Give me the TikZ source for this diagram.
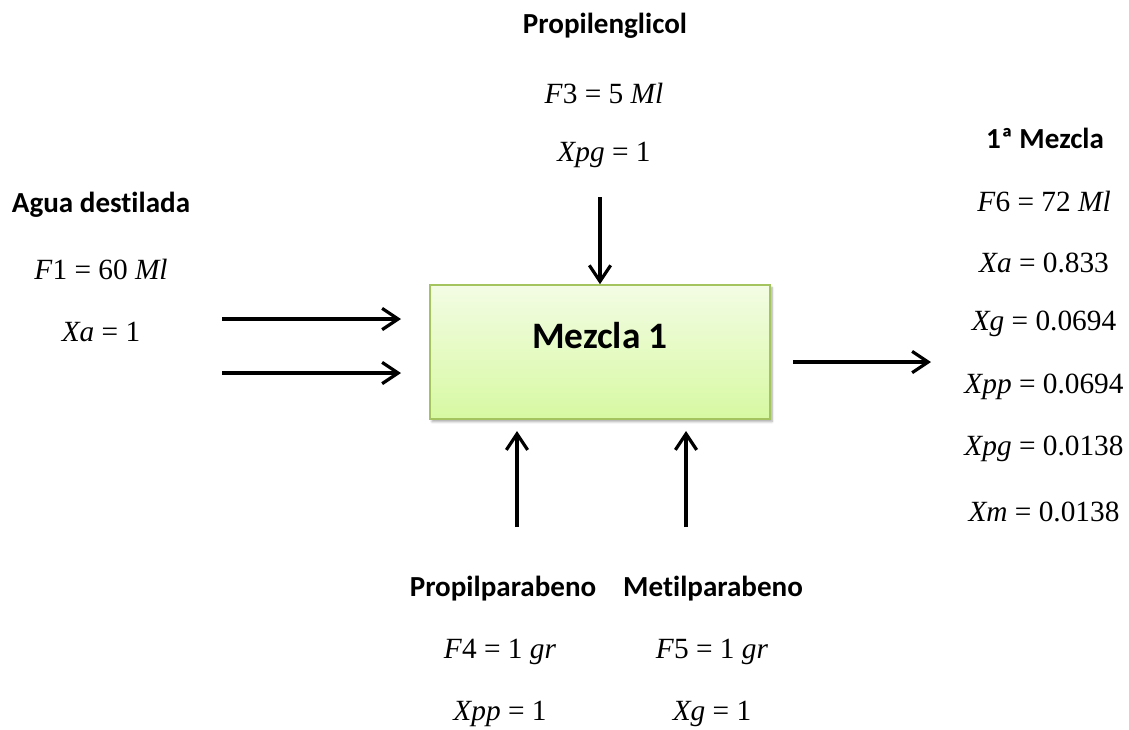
\documentclass[tikz,border=0pt]{standalone}
\usepackage{fontspec}
\newfontfamily\headfont{Carlito}[Ligatures=NoCommon]
\newfontfamily\eqfont{Liberation Serif}
\usetikzlibrary{arrows.meta,shadows.blur}

\definecolor{boxtop}{HTML}{F3FCE4}
\definecolor{boxbot}{HTML}{D7F9A2}
\definecolor{boxline}{HTML}{A3C45E}

% italic variable names inside the stream equations
\newcommand\vr[1]{\textit{#1}}

\begin{document}
\begin{tikzpicture}[x=0.75pt,y=-0.75pt,
  head/.style={font=\headfont\bfseries\fontsize{21.8}{26}\selectfont, inner sep=0pt},
  eq/.style={font=\eqfont\fontsize{22}{26}\selectfont, inner sep=0pt},
  mixbox/.style={draw=boxline, line width=1.2pt, top color=boxtop, bottom color=boxbot,
    minimum width=255pt, minimum height=100.5pt, inner sep=0pt,
    blur shadow={shadow xshift=1.5pt, shadow yshift=-2pt, shadow blur steps=6, shadow opacity=35}},
  flow/.style={line width=2.4pt, -{Straight Barb[length=12pt,width=16pt]}}
]
\useasboundingbox (0,0) rectangle (1129,729);

% process unit
\node[mixbox] (mix) at (600,352) {};
\node[font=\headfont\bfseries\fontsize{28}{33}\selectfont, inner sep=0pt] (mixlabel) at (600,336) {Mezcla 1};

% stream 1: water
\node[head] (n1) at (101,205) {Agua destilada};
\node[eq] (f1) at (101,269) {\vr{F}1 = 60 \vr{Ml}};
\node[eq] (x1) at (101,332) {\vr{Xa} = 1};

% stream 3: propylene glycol
\node[head] (n3) at (605,26) {Propilenglicol};
\node[eq] (f3) at (604,93) {\vr{F}3 = 5 \vr{Ml}};
\node[eq] (x3) at (604,155) {\vr{Xpg} = 1};

% streams 4 and 5: parabens
\node[head] (n4) at (503,589) {Propilparabeno};
\node[eq] (f4) at (500,652) {\vr{F}4 = 1 \vr{gr}};
\node[eq] (x4) at (500,714) {\vr{Xpp} = 1};
\node[head] (n5) at (713,589) {Metilparabeno};
\node[eq] (f5) at (712,652) {\vr{F}5 = 1 \vr{gr}};
\node[eq] (x5) at (712,714) {\vr{Xg} = 1};

% stream 6: product
\node[head] (n6) at (1045,138) {1ª Mezcla};
\node[eq] (f6) at (1044,201) {\vr{F}6 = 72 \vr{Ml}};
\node[eq] (x6a) at (1044,263) {\vr{Xa} = 0.833};
\node[eq] (x6g) at (1044,324) {\vr{Xg} = 0.0694};
\node[eq] (x6pp) at (1044,387) {\vr{Xpp} = 0.0694};
\node[eq] (x6pg) at (1044,449) {\vr{Xpg} = 0.0138};
\node[eq] (x6m) at (1044,512) {\vr{Xm} = 0.0138};

% arrow end points
\coordinate (a1s) at (222,319);
\coordinate (a1e) at (401,319);
\coordinate (a2s) at (222,373);
\coordinate (a2e) at (401,373);
\coordinate (a3s) at (600,197);
\coordinate (a4s) at (517,527);
\coordinate (a4e) at (517,431);
\coordinate (a5s) at (686,527);
\coordinate (a5e) at (686,431);
\coordinate (a6s) at (793,362);
\coordinate (a6e) at (931,362);

% flows
\draw[flow] (a1s) -- (a1e);
\draw[flow] (a2s) -- (a2e);
\draw[flow] (a3s) -- (a3s |- mix.north);
\draw[flow] (a4s) -- (a4e);
\draw[flow] (a5s) -- (a5e);
\draw[flow] (a6s) -- (a6e);
\end{tikzpicture}
\end{document}
